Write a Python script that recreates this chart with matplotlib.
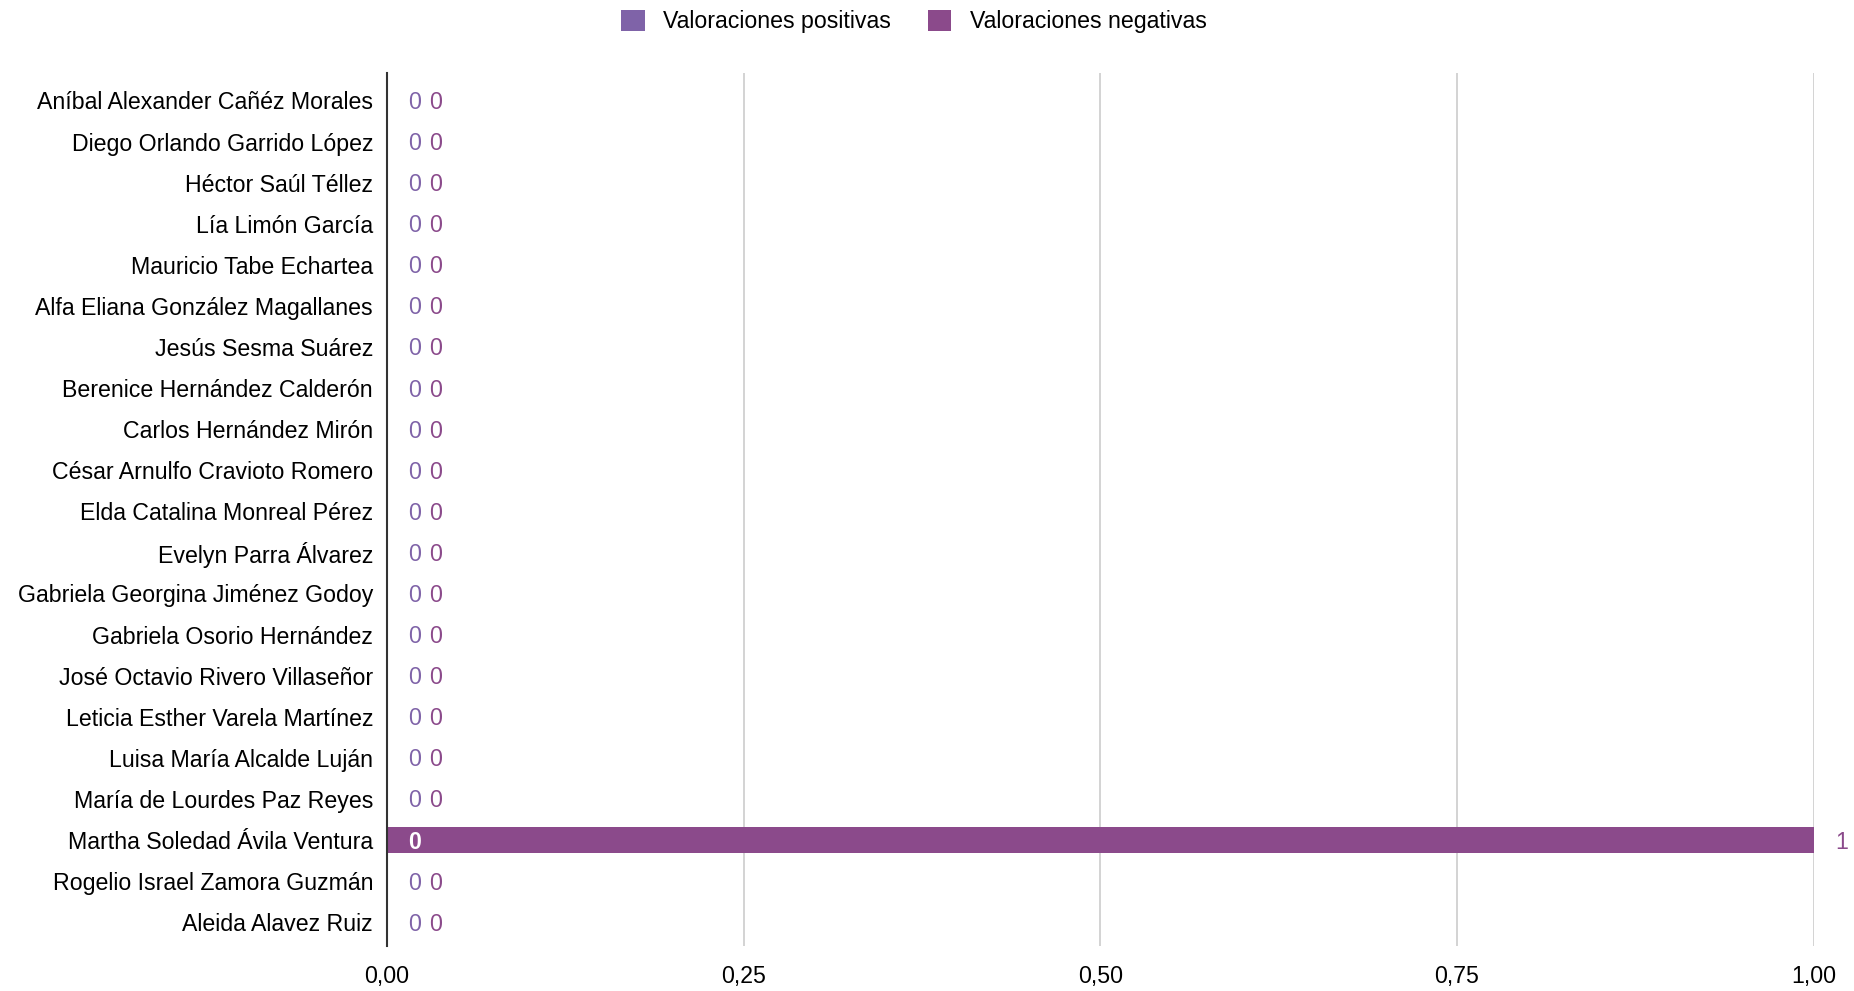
import matplotlib
matplotlib.use('Agg')
import matplotlib.pyplot as plt
import numpy as np
from matplotlib.ticker import FuncFormatter

plt.rcParams['font.family'] = ['Liberation Sans', 'DejaVu Sans']

names = [
    'Aníbal Alexander Cañéz Morales',
    'Diego Orlando Garrido López',
    'Héctor Saúl Téllez',
    'Lía Limón García',
    'Mauricio Tabe Echartea',
    'Alfa Eliana González Magallanes',
    'Jesús Sesma Suárez',
    'Berenice Hernández Calderón',
    'Carlos Hernández Mirón',
    'César Arnulfo Cravioto Romero',
    'Elda Catalina Monreal Pérez',
    'Evelyn Parra Álvarez',
    'Gabriela Georgina Jiménez Godoy',
    'Gabriela Osorio Hernández',
    'José Octavio Rivero Villaseñor',
    'Leticia Esther Varela Martínez',
    'Luisa María Alcalde Luján',
    'María de Lourdes Paz Reyes',
    'Martha Soledad Ávila Ventura',
    'Rogelio Israel Zamora Guzmán',
    'Aleida Alavez Ruiz',
]
positivas = [0] * 21
negativas = [0, 0, 0, 0, 0, 0, 0, 0, 0, 0, 0, 0, 0, 0, 0, 0, 0, 0, 1, 0, 0]

c_pos = '#7f63a8'
c_neg = '#8b4a8b'
fs = 16.7

fig = plt.figure(figsize=(18.54, 9.91), dpi=100)
ax = fig.add_axes([0.2087, 0.0454, 0.7695, 0.8806])

y = np.arange(len(names))
pos = np.array(positivas)
neg = np.array(negativas)
ax.barh(y, pos, height=0.63, color=c_pos, label='Valoraciones positivas', zorder=3)
ax.barh(y, neg, left=pos, height=0.63, color=c_neg, label='Valoraciones negativas', zorder=3)

for i in range(len(names)):
    inside = pos[i] == 0 and neg[i] > 0
    ax.annotate(str(pos[i]), (pos[i], y[i]), xytext=(28, -2), textcoords='offset pixels',
                ha='center', va='center', fontsize=fs,
                color='white' if inside else c_pos, fontweight='bold' if inside else 'normal', zorder=4)
    extra = 21 if neg[i] == 0 else 0
    ax.annotate(str(neg[i]), (pos[i] + neg[i], y[i]), xytext=(28 + extra, -2), textcoords='offset pixels',
                ha='center', va='center', fontsize=fs, color=c_neg, zorder=4, annotation_clip=False)

ax.set_yticks(y)
ax.set_yticklabels(names, fontsize=fs)
ax.set_ylim(20.58, -0.66)
ax.set_xlim(0, 1.0)
ax.set_xticks([0, 0.25, 0.5, 0.75, 1.0])
ax.xaxis.set_major_formatter(FuncFormatter(lambda v, p: f'{v:.2f}'.replace('.', ',')))
ax.tick_params(axis='x', labelsize=fs, length=0, pad=14)
ax.tick_params(axis='y', length=0, pad=10)
ax.grid(axis='x', color='#cccccc', linewidth=1.2, zorder=0)
for s in ['top', 'right', 'bottom']:
    ax.spines[s].set_visible(False)
ax.spines['left'].set_color('#333333')
ax.spines['left'].set_linewidth(1.5)
ax.spines['left'].set_zorder(5)

fig.legend(loc='center', bbox_to_anchor=(0.493, 0.978), ncol=2, frameon=False, fontsize=fs,
           handlelength=1.0, handleheight=1.0, columnspacing=1.6, handletextpad=0.8)

plt.savefig('out.png', dpi=100)
